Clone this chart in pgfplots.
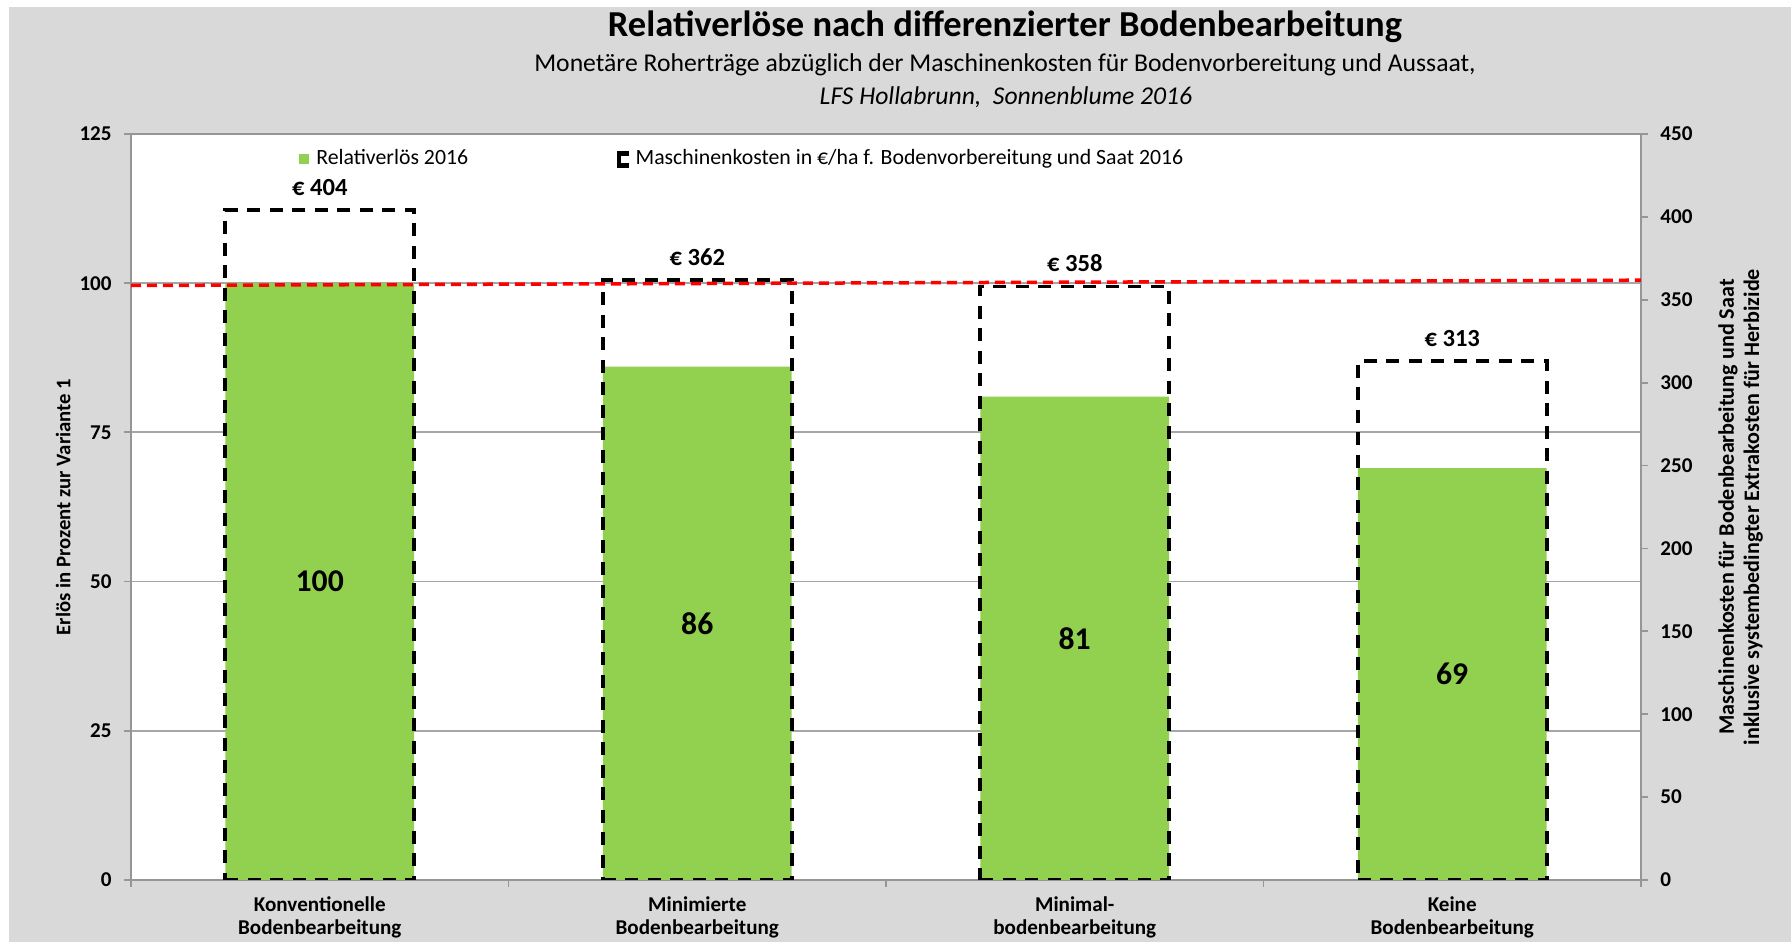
\documentclass[border=0pt]{standalone}
\usepackage{fontspec}
\setmainfont{Carlito}
\usepackage{pgfplots}
\pgfplotsset{compat=1.18}

\definecolor{bg}{HTML}{D9D9D9}
\definecolor{barg}{HTML}{92D050}
\definecolor{axgray}{HTML}{969696}
\definecolor{gridgray}{HTML}{A6A6A6}

\newcommand{\fs}[1]{\fontsize{#1}{1.2\dimexpr#1pt\relax}\selectfont}

\pgfplotsset{
  base/.style={
    scale only axis, width=151mm, height=74.6mm,
    at={(13.1mm,6.2mm)}, anchor=south west,
    xmin=-0.5, xmax=3.5, ymin=0,
    bar width=0.5,
    /pgf/number format/assume math mode=true,
    tick align=outside, major tick length=0.7mm, minor tick length=0.7mm,
    tick style={axgray, line width=0.5pt},
    axis line style={axgray, line width=0.6pt},
    ticklabel style={font=\bfseries\fs{6}},
  },
}

\begin{document}
\begin{tikzpicture}
\fill[white] (0,0) rectangle (179.1mm,94.2mm);
\fill[bg] (0.9mm,0) rectangle (179.1mm,93.5mm);

% primary axis: Relativerlös
\begin{axis}[base,
    ymax=125, ytick={0,25,...,125},
    ymajorgrids, grid style={gridgray, line width=0.5pt},
    ytick pos=left, xtick pos=bottom,
    axis background/.style={fill=white},
    xtick={0,1,2,3},
    xticklabels={Konventionelle\\Bodenbearbeitung, Minimierte\\Bodenbearbeitung, Minimal-\\bodenbearbeitung, Keine\\Bodenbearbeitung},
    xticklabel style={align=center, font=\bfseries\fontsize{6}{6.6}\selectfont, yshift=0.3mm},
    major x tick style={draw=none},
    minor xtick={-0.5,0.5,1.5,2.5,3.5},
    ylabel={Erlös in Prozent zur Variante 1},
    every axis y label/.style={at={(axis description cs:-0.045,0.5)}, rotate=90, anchor=center, font=\bfseries\fs{5.9}},
    legend style={at={(axis description cs:0.104,0.966)}, anchor=west, draw=none, fill=none,
      legend columns=2, font=\fs{6.2},
      /tikz/every even column/.append style={column sep=14.2mm}},
  ]
\addplot[ybar, bar shift=0pt, fill=barg, draw=none,
    legend image code/.code={\fill[barg] (0mm,-0.5mm) rectangle (1mm,0.5mm);},
    nodes near coords,
    visualization depends on=rawy \as \rawy,
    every node near coord/.append style={anchor=center, font=\bfseries\fs{9},
      shift={(axis direction cs:0,-\rawy/2)}},
  ] coordinates {(0,100) (1,86) (2,81) (3,69)};
\addlegendentry{Relativerlös 2016}
\addlegendimage{legend image code/.code={
    \fill[black] (0mm,0.45mm) rectangle (1mm,0.75mm);
    \fill[black] (0mm,-0.75mm) rectangle (1mm,-0.45mm);
    \fill[black] (0mm,-0.75mm) rectangle (0.25mm,0.75mm);}}
\addlegendentry{Maschinenkosten in €/ha f. Bodenvorbereitung und Saat 2016}
\end{axis}

% secondary axis: Maschinenkosten
\begin{axis}[base,
    ymax=450, ytick={0,50,...,450},
    axis y line*=right, axis x line=none,
    ylabel={Maschinenkosten für Bodenbearbeitung und Saat\\inklusive systembedingter Extrakosten für Herbizide},
    every axis y label/.style={at={(axis description cs:1.066,0.5)}, rotate=90, anchor=center, align=center, font=\bfseries\fontsize{6.3}{7.2}\selectfont},
  ]
\addplot[ybar, bar shift=0pt, fill=none, draw=black, line width=0.38mm,
    dash pattern=on 1.3mm off 0.95mm,
    nodes near coords={€ \pgfmathprintnumber{\pgfplotspointmeta}},
    every node near coord/.append style={font=\bfseries\fs{7}, yshift=0.1mm, solid},
  ] coordinates {(0,404) (1,362) (2,358) (3,313)};
\addplot[red, line width=0.35mm, dash pattern=on 1mm off 0.6mm] coordinates {(-0.5,358.6) (3.5,361.8)};
\end{axis}

\node[font=\bfseries\fs{10.4}] at (100.5mm,91.5mm) {Relativerlöse nach differenzierter Bodenbearbeitung};
\node[font=\fs{7.3}] at (100.5mm,87.7mm) {Monetäre Roherträge abzüglich der Maschinenkosten für Bodenvorbereitung und Aussaat,};
\node[font=\itshape\fs{7.3}] at (100.6mm,84.5mm) {LFS Hollabrunn,\ \ Sonnenblume 2016};

\pgfresetboundingbox
\useasboundingbox (0,0) rectangle (179.1mm,94.2mm);
\end{tikzpicture}
\end{document}
